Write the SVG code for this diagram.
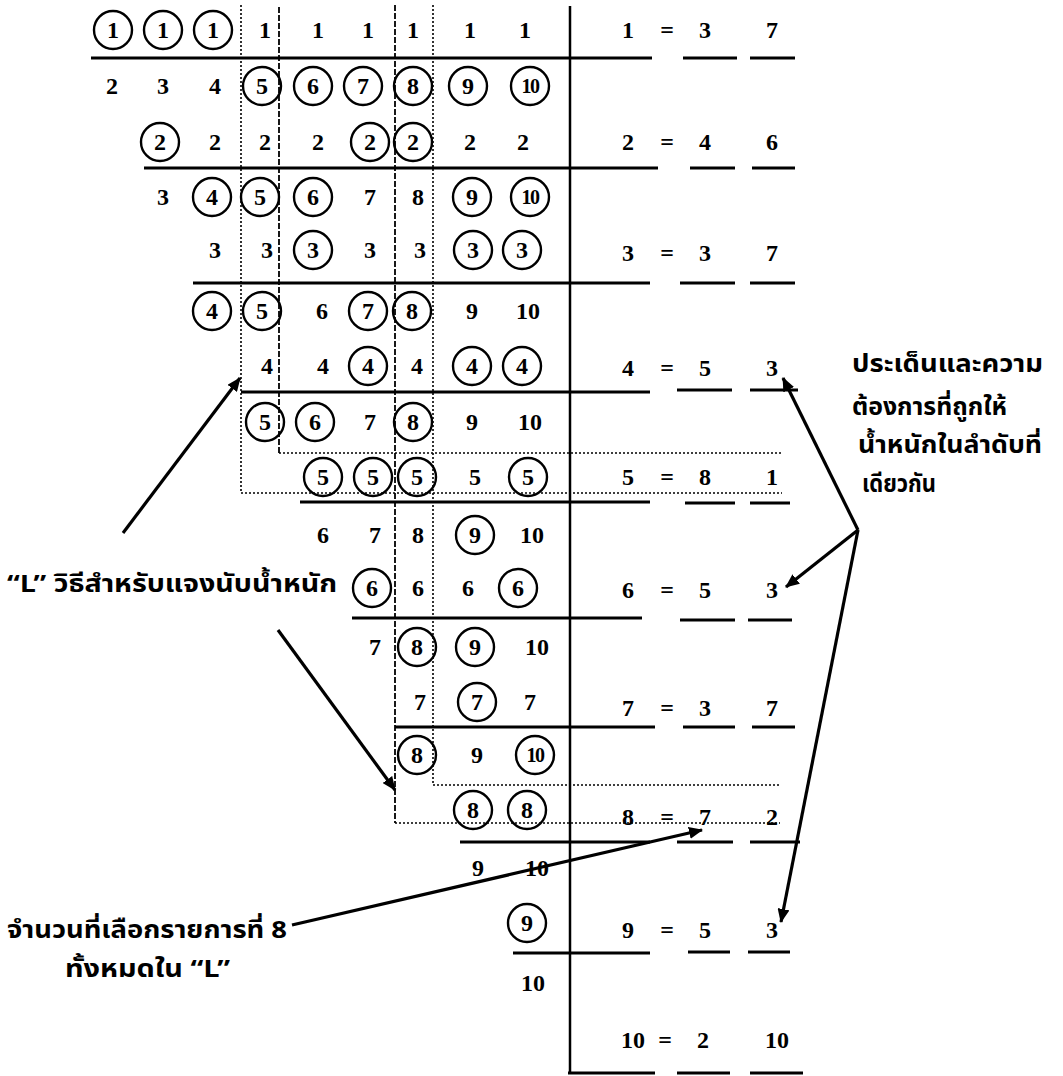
<svg xmlns="http://www.w3.org/2000/svg" width="1063" height="1076" viewBox="0 0 1063 1076">
<defs>
<style>
.n{font-family:"Liberation Serif",serif;font-weight:bold;font-size:24px;text-anchor:middle;fill:#000}
.s{font-size:20px;letter-spacing:-1.5px}
.c{fill:none;stroke:#000;stroke-width:2.4}
.th{font-family:"Noto Sans Thai","Noto Sans","DejaVu Sans",sans-serif;font-weight:bold;font-size:24px;fill:#000}
.hl{stroke:#000;stroke-width:3;fill:none}
.vm{stroke:#000;stroke-width:2.5;fill:none}
.dot{stroke:#000;stroke-width:1.6;stroke-dasharray:2 2;fill:none}
.dash{stroke:#000;stroke-width:1.8;stroke-dasharray:6 2;fill:none}
.ar{stroke:#000;stroke-width:3.2;fill:none;marker-end:url(#ah)}
</style>
<marker id="ah" markerUnits="userSpaceOnUse" markerWidth="16" markerHeight="12" refX="13" refY="6" orient="auto">
<path d="M0,0 L14,6 L0,12 Z" fill="#000"/>
</marker>
</defs>
<rect width="1063" height="1076" fill="#fff"/>

<g id="grid-lines">
<line class="dot" x1="241" y1="5" x2="241" y2="493"/>
<line class="dash" x1="279" y1="7" x2="279" y2="453"/>
<line class="dash" x1="395" y1="5" x2="395" y2="823"/>
<line class="dot" x1="433" y1="5" x2="433" y2="785"/>
<line class="vm" x1="570" y1="6" x2="570" y2="1074"/>
<line class="dot" x1="279" y1="453" x2="782" y2="453"/>
<line class="dot" x1="241" y1="493" x2="782" y2="493"/>
<line class="dot" x1="433" y1="785" x2="780" y2="785"/>
<line class="dot" x1="395" y1="823" x2="780" y2="823"/>
<line class="hl" x1="91" y1="58" x2="652" y2="58"/>
<line class="hl" x1="144" y1="168" x2="658" y2="168"/>
<line class="hl" x1="193" y1="283" x2="650" y2="283"/>
<line class="hl" x1="241" y1="392" x2="650" y2="392"/>
<line class="hl" x1="300" y1="502" x2="650" y2="502"/>
<line class="hl" x1="352" y1="618" x2="642" y2="618"/>
<line class="hl" x1="395" y1="727" x2="655" y2="727"/>
<line class="hl" x1="460" y1="842" x2="650" y2="842"/>
<line class="hl" x1="513" y1="953" x2="650" y2="953"/>
<line class="hl" x1="568" y1="1073" x2="655" y2="1073"/>
<path class="hl" d="M683,58H737M750,58H795M690,168H735M752,168H795M680,283H735M750,283H795M677,390H732M750,390H798M685,503H735M750,503H790M680,620H735M748,620H792M683,727H735M752,727H795M677,842H733M750,842H800M688,952H730M748,952H790M677,1073H730M750,1073H803"/>
</g>

<g id="row-1">
<circle class="c" cx="113" cy="30" r="19"/><circle class="c" cx="163" cy="30" r="19"/><circle class="c" cx="213" cy="30" r="19"/>
<text class="n" x="113" y="38">1</text><text class="n" x="163" y="38">1</text><text class="n" x="213" y="38">1</text>
<text class="n" x="265" y="38">1</text><text class="n" x="318" y="38">1</text><text class="n" x="368" y="38">1</text><text class="n" x="413" y="38">1</text><text class="n" x="470" y="38">1</text><text class="n" x="525" y="38">1</text>
</g>
<g id="row-2">
<text class="n" x="112" y="94">2</text><text class="n" x="163" y="94">3</text><text class="n" x="215" y="94">4</text>
<circle class="c" cx="262" cy="86" r="19"/><circle class="c" cx="313" cy="86" r="19"/><circle class="c" cx="363" cy="86" r="19"/><circle class="c" cx="413" cy="86" r="19"/><circle class="c" cx="468" cy="86" r="19"/><circle class="c" cx="530" cy="86" r="19"/>
<text class="n" x="262" y="94">5</text><text class="n" x="313" y="94">6</text><text class="n" x="363" y="94">7</text><text class="n" x="413" y="94">8</text><text class="n" x="468" y="94">9</text><text class="n s" x="530" y="93">10</text>
</g>
<g id="row-3">
<circle class="c" cx="160" cy="142" r="19"/><circle class="c" cx="370" cy="142" r="19"/><circle class="c" cx="413" cy="142" r="19"/>
<text class="n" x="160" y="150">2</text><text class="n" x="215" y="150">2</text><text class="n" x="265" y="150">2</text><text class="n" x="318" y="150">2</text><text class="n" x="370" y="150">2</text><text class="n" x="413" y="150">2</text><text class="n" x="470" y="150">2</text><text class="n" x="523" y="150">2</text>
</g>
<g id="row-4">
<circle class="c" cx="212" cy="197" r="19"/><circle class="c" cx="260" cy="197" r="19"/><circle class="c" cx="313" cy="197" r="19"/><circle class="c" cx="472" cy="197" r="19"/><circle class="c" cx="530" cy="197" r="19"/>
<text class="n" x="163" y="205">3</text><text class="n" x="212" y="205">4</text><text class="n" x="260" y="205">5</text><text class="n" x="313" y="205">6</text><text class="n" x="370" y="205">7</text><text class="n" x="418" y="205">8</text><text class="n" x="472" y="205">9</text><text class="n s" x="530" y="204">10</text>
</g>
<g id="row-5">
<circle class="c" cx="313" cy="250" r="19"/><circle class="c" cx="473" cy="250" r="19"/><circle class="c" cx="522" cy="250" r="19"/>
<text class="n" x="215" y="258">3</text><text class="n" x="267" y="258">3</text><text class="n" x="313" y="258">3</text><text class="n" x="370" y="258">3</text><text class="n" x="420" y="258">3</text><text class="n" x="473" y="258">3</text><text class="n" x="522" y="258">3</text>
</g>
<g id="row-6">
<circle class="c" cx="212" cy="311" r="19"/><circle class="c" cx="262" cy="311" r="19"/><circle class="c" cx="368" cy="311" r="19"/><circle class="c" cx="412" cy="311" r="19"/>
<text class="n" x="212" y="319">4</text><text class="n" x="262" y="319">5</text><text class="n" x="322" y="319">6</text><text class="n" x="368" y="319">7</text><text class="n" x="412" y="319">8</text><text class="n" x="472" y="319">9</text><text class="n" x="528" y="319">10</text>
</g>
<g id="row-7">
<circle class="c" cx="368" cy="366" r="19"/><circle class="c" cx="472" cy="366" r="19"/><circle class="c" cx="522" cy="366" r="19"/>
<text class="n" x="267" y="374">4</text><text class="n" x="323" y="374">4</text><text class="n" x="368" y="374">4</text><text class="n" x="417" y="374">4</text><text class="n" x="472" y="374">4</text><text class="n" x="522" y="374">4</text>
</g>
<g id="row-8">
<circle class="c" cx="265" cy="422" r="19"/><circle class="c" cx="315" cy="422" r="19"/><circle class="c" cx="413" cy="422" r="19"/>
<text class="n" x="265" y="430">5</text><text class="n" x="315" y="430">6</text><text class="n" x="370" y="430">7</text><text class="n" x="413" y="430">8</text><text class="n" x="472" y="430">9</text><text class="n" x="530" y="430">10</text>
</g>
<g id="row-9">
<circle class="c" cx="323" cy="477" r="19"/><circle class="c" cx="373" cy="477" r="19"/><circle class="c" cx="417" cy="477" r="19"/><circle class="c" cx="528" cy="477" r="19"/>
<text class="n" x="323" y="485">5</text><text class="n" x="373" y="485">5</text><text class="n" x="417" y="485">5</text><text class="n" x="475" y="485">5</text><text class="n" x="528" y="485">5</text>
</g>
<g id="row-10">
<circle class="c" cx="475" cy="535" r="19"/>
<text class="n" x="323" y="543">6</text><text class="n" x="375" y="543">7</text><text class="n" x="418" y="543">8</text><text class="n" x="475" y="543">9</text><text class="n" x="532" y="543">10</text>
</g>
<g id="row-11">
<circle class="c" cx="372" cy="588" r="19"/><circle class="c" cx="518" cy="588" r="19"/>
<text class="n" x="372" y="596">6</text><text class="n" x="418" y="596">6</text><text class="n" x="468" y="596">6</text><text class="n" x="518" y="596">6</text>
</g>
<g id="row-12">
<circle class="c" cx="417" cy="647" r="19"/><circle class="c" cx="475" cy="647" r="19"/>
<text class="n" x="375" y="655">7</text><text class="n" x="417" y="655">8</text><text class="n" x="475" y="655">9</text><text class="n" x="537" y="655">10</text>
</g>
<g id="row-13">
<circle class="c" cx="477" cy="702" r="19"/>
<text class="n" x="420" y="710">7</text><text class="n" x="477" y="710">7</text><text class="n" x="530" y="710">7</text>
</g>
<g id="row-14">
<circle class="c" cx="417" cy="755" r="19"/><circle class="c" cx="535" cy="755" r="19"/>
<text class="n" x="417" y="763">8</text><text class="n" x="477" y="763">9</text><text class="n s" x="535" y="762">10</text>
</g>
<g id="row-15">
<circle class="c" cx="473" cy="810" r="19"/><circle class="c" cx="527" cy="810" r="19"/>
<text class="n" x="473" y="818">8</text><text class="n" x="527" y="818">8</text>
</g>
<g id="row-16">
<text class="n" x="478" y="876">9</text><text class="n" x="537" y="876">10</text>
</g>
<g id="row-17">
<circle class="c" cx="527" cy="923" r="19"/>
<text class="n" x="527" y="931">9</text>
</g>
<g id="row-18">
<text class="n" x="533" y="991">10</text>
</g>

<g id="totals">
<text class="n" x="628" y="38">1</text><text class="n" x="667" y="38">=</text><text class="n" x="705" y="38">3</text><text class="n" x="772" y="38">7</text>
<text class="n" x="628" y="150">2</text><text class="n" x="667" y="150">=</text><text class="n" x="705" y="150">4</text><text class="n" x="772" y="150">6</text>
<text class="n" x="628" y="261">3</text><text class="n" x="667" y="261">=</text><text class="n" x="705" y="261">3</text><text class="n" x="772" y="261">7</text>
<text class="n" x="628" y="376">4</text><text class="n" x="667" y="376">=</text><text class="n" x="705" y="376">5</text><text class="n" x="772" y="376">3</text>
<text class="n" x="628" y="485">5</text><text class="n" x="667" y="485">=</text><text class="n" x="705" y="485">8</text><text class="n" x="772" y="485">1</text>
<text class="n" x="628" y="598">6</text><text class="n" x="667" y="598">=</text><text class="n" x="705" y="598">5</text><text class="n" x="772" y="598">3</text>
<text class="n" x="628" y="716">7</text><text class="n" x="667" y="716">=</text><text class="n" x="705" y="716">3</text><text class="n" x="772" y="716">7</text>
<text class="n" x="628" y="825">8</text><text class="n" x="667" y="825">=</text><text class="n" x="705" y="825">7</text><text class="n" x="772" y="825">2</text>
<text class="n" x="628" y="938">9</text><text class="n" x="667" y="938">=</text><text class="n" x="705" y="938">5</text><text class="n" x="772" y="938">3</text>
<text class="n" x="633" y="1048">10</text><text class="n" x="665" y="1048">=</text><text class="n" x="703" y="1048">2</text><text class="n" x="777" y="1048">10</text>
</g>

<g id="label-L">
<text class="th" x="7" y="592" textLength="330" lengthAdjust="spacingAndGlyphs">“L” วิธีสำหรับแจงนับน้ำหนัก</text>
</g>
<g id="label-count8">
<text class="th" x="7" y="938" textLength="280" lengthAdjust="spacingAndGlyphs">จำนวนที่เลือกรายการที่ 8</text>
<text class="th" x="65" y="977" textLength="165" lengthAdjust="spacingAndGlyphs">ทั้งหมดใน “L”</text>
</g>
<g id="label-same-rank">
<text class="th" x="852" y="372" textLength="191" lengthAdjust="spacingAndGlyphs">ประเด็นและความ</text>
<text class="th" x="852" y="415" textLength="155" lengthAdjust="spacingAndGlyphs">ต้องการที่ถูกให้</text>
<text class="th" x="858" y="453" textLength="184" lengthAdjust="spacingAndGlyphs">น้ำหนักในลำดับที่</text>
<text class="th" x="862" y="492" textLength="74" lengthAdjust="spacingAndGlyphs">เดียวกัน</text>
</g>

<g id="connectors">
<line class="ar" x1="123" y1="533" x2="240" y2="378"/>
<line class="ar" x1="278" y1="630" x2="395" y2="790"/>
<line class="ar" x1="292" y1="925" x2="702" y2="830"/>
<line class="ar" x1="858" y1="530" x2="783" y2="378"/>
<line class="ar" x1="858" y1="530" x2="786" y2="587"/>
<line class="ar" x1="858" y1="530" x2="781" y2="922"/>
</g>
</svg>
